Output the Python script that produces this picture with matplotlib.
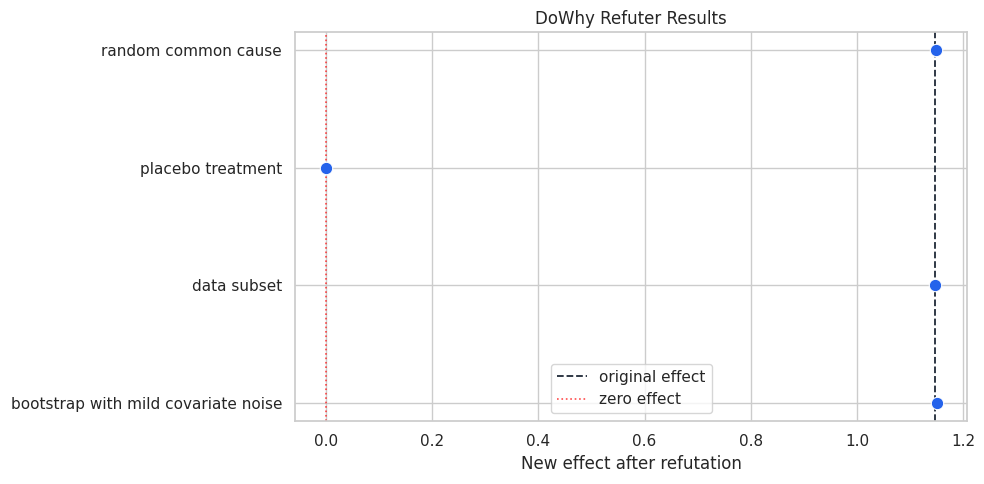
import numpy as np
import matplotlib
matplotlib.use("Agg")
import matplotlib.pyplot as plt
import seaborn as sns

# refuter results
refuters = ["random common cause", "placebo treatment", "data subset",
            "bootstrap with mild covariate noise"]
new_effects = [1.148, 0.0, 1.146, 1.150]
original_effect = 1.147

sns.set_theme(style="whitegrid")

fig, ax = plt.subplots(figsize=(9.84, 4.84), dpi=100)
ax.scatter(new_effects, refuters, s=80, color="#2563EB", edgecolor="white",
           linewidth=0.8, zorder=3)
ax.invert_yaxis()

ax.axvline(original_effect, color="#1f2937", linestyle="--", linewidth=1.3,
           label="original effect")
ax.axvline(0, color="red", linestyle=":", linewidth=1.2, alpha=0.7,
           label="zero effect")

ax.set_title("DoWhy Refuter Results")
ax.set_xlabel("New effect after refutation")
ax.legend(loc="lower center")

fig.subplots_adjust(left=0.300, right=0.983, top=0.934, bottom=0.130)
fig.savefig("out.png")
